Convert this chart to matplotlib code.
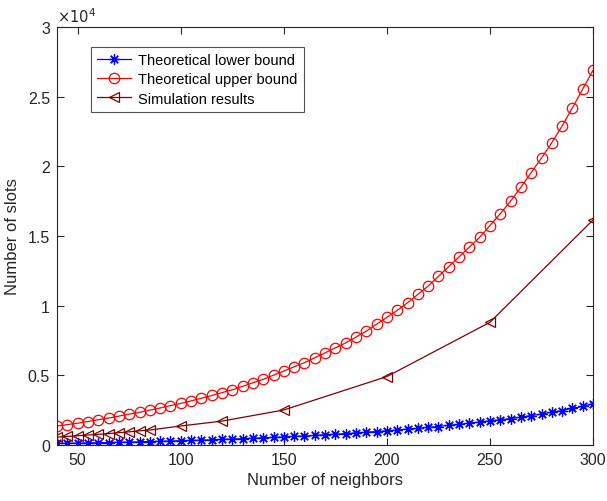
import matplotlib
matplotlib.use("Agg")
import matplotlib.pyplot as plt
from matplotlib.ticker import FuncFormatter

# number of neighbors for the two theoretical curves
neighbors = [40, 45, 50, 55, 60, 65, 70, 75, 80, 85, 90, 95, 100, 105, 110, 115,
             120, 125, 130, 135, 140, 145, 150, 155, 160, 165, 170, 175, 180,
             185, 190, 195, 200, 205, 210, 215, 220, 225, 230, 235, 240, 245,
             250, 255, 260, 265, 270, 275, 280, 285, 290, 295, 300]

# values in units of 1e4 slots
lower_bound = [0.010, 0.011, 0.012, 0.013, 0.015, 0.016, 0.018, 0.019, 0.021,
               0.023, 0.025, 0.027, 0.029, 0.031, 0.033, 0.036, 0.038, 0.041,
               0.044, 0.047, 0.050, 0.053, 0.056, 0.060, 0.063, 0.067, 0.072,
               0.076, 0.080, 0.085, 0.090, 0.095, 0.100, 0.106, 0.113, 0.117,
               0.126, 0.131, 0.140, 0.146, 0.156, 0.163, 0.172, 0.180, 0.188,
               0.198, 0.210, 0.220, 0.235, 0.245, 0.262, 0.275, 0.295]

upper_bound = [0.135, 0.145, 0.155, 0.167, 0.180, 0.192, 0.206, 0.220, 0.233,
               0.249, 0.264, 0.281, 0.297, 0.315, 0.334, 0.354, 0.374, 0.395,
               0.420, 0.445, 0.470, 0.500, 0.530, 0.560, 0.590, 0.625, 0.660,
               0.696, 0.732, 0.773, 0.816, 0.866, 0.915, 0.965, 1.020, 1.080,
               1.140, 1.210, 1.280, 1.350, 1.420, 1.490, 1.575, 1.660, 1.750,
               1.850, 1.955, 2.060, 2.170, 2.290, 2.420, 2.555, 2.690]

sim_neighbors = [40, 45, 50, 55, 60, 65, 70, 75, 80, 85, 100, 120, 150, 200, 250, 300]
sim_results = [0.055, 0.060, 0.065, 0.070, 0.075, 0.080, 0.087, 0.093, 0.100,
               0.106, 0.135, 0.170, 0.250, 0.490, 0.880, 1.615]

scale = 1e4

plt.rcParams['font.family'] = ['Liberation Sans', 'DejaVu Sans']
axis_color = '#262626'

fig = plt.figure(figsize=(6.07, 5.02), dpi=100)
ax = fig.add_axes([0.094, 0.112, 0.883, 0.832])

ax.plot(neighbors, [v * scale for v in lower_bound], color='#0000ff', lw=0.9,
        marker=(8, 2, 0), ms=7.5, mew=0.9, label='Theoretical lower bound')
ax.plot(neighbors, [v * scale for v in upper_bound], color='#ff0000', lw=0.9,
        marker='o', ms=7.5, mfc='none', mew=0.9, label='Theoretical upper bound')
ax.plot(sim_neighbors, [v * scale for v in sim_results], color='#800000', lw=0.9,
        marker='<', ms=7.5, mfc='none', mew=0.9, label='Simulation results')

ax.set_xlim(40, 300)
ax.set_ylim(0, 3e4)
ax.set_xticks([50, 100, 150, 200, 250, 300])
ax.set_yticks([0, 5000, 10000, 15000, 20000, 25000, 30000])
ax.yaxis.set_major_formatter(FuncFormatter(lambda v, p: '%g' % (v / scale)))

ax.tick_params(direction='in', length=5, width=0.8, colors=axis_color,
               labelsize=11.5, top=True, right=True, pad=5)
ax.tick_params(axis='x', labeltop=False)
ax.tick_params(axis='y', labelright=False)
for sp in ax.spines.values():
    sp.set_color(axis_color)
    sp.set_linewidth(0.8)

ax.text(0.0, 1.005, r'$\times10^{4}$', transform=ax.transAxes, fontsize=10.5,
        color=axis_color, ha='left', va='bottom')

ax.set_xlabel('Number of neighbors', fontsize=12, color=axis_color, labelpad=4)
ax.set_ylabel('Number of slots', fontsize=12, color=axis_color, labelpad=6)

leg = ax.legend(loc='upper left', bbox_to_anchor=(0.063, 0.953), borderaxespad=0,
                fontsize=10.5, frameon=True, fancybox=False, edgecolor=axis_color,
                handlelength=2.3, borderpad=0.45, labelspacing=0.35,
                handletextpad=0.5)
leg.get_frame().set_linewidth(0.8)

fig.savefig('out.png', dpi=100)
